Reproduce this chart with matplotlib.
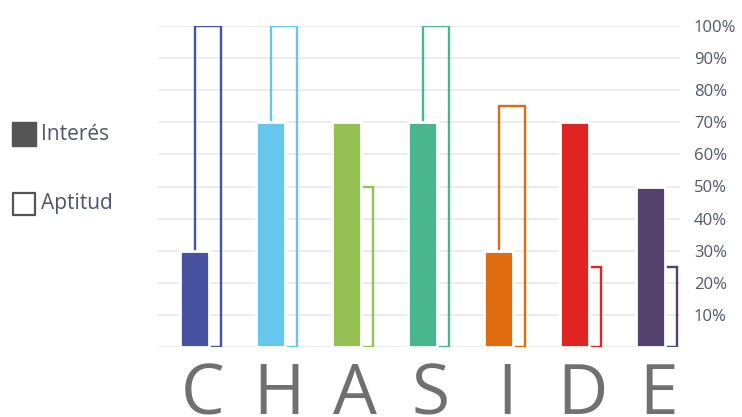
import matplotlib
matplotlib.use("Agg")
import matplotlib.pyplot as plt
from matplotlib.patches import Rectangle

categories = ["C", "H", "A", "S", "I", "D", "E"]
interes = [30, 70, 70, 70, 30, 70, 50]
aptitud = [100, 100, 50, 100, 75, 25, 25]
colors = ["#4652a0", "#67c6ec", "#96c155", "#49b690", "#e06c10", "#e02424", "#55416e"]
yticks = [10, 20, 30, 40, 50, 60, 70, 80, 90, 100]
ytick_labels = ["10%", "20%", "30%", "40%", "50%", "60%", "70%", "80%", "90%", "100%"]
legend_labels = ["Interés", "Aptitud"]

plt.rcParams['font.family'] = ['Open Sans', 'DejaVu Sans']

W, H = 742, 417
fig = plt.figure(figsize=(W / 100, H / 100), dpi=100)
ax = fig.add_axes([158 / W, (H - 347) / H, (680 - 158) / W, (347 - 26) / H])

x = list(range(len(categories)))
off = 0.09
# gridlines
for v in [0] + yticks:
    ax.axhline(v, color="#ececec", lw=1.4, zorder=0)

ax.bar([i + off for i in x], aptitud, width=0.34, facecolor="none",
       edgecolor=colors, linewidth=1.7, zorder=2)
ax.bar([i - off for i in x], interes, width=0.38, color=colors,
       edgecolor="white", linewidth=2.0, zorder=3)

ax.set_xlim(-0.566, 6.30)
ax.set_ylim(0, 100)
ax.yaxis.tick_right()
ax.set_yticks(yticks)
ax.set_yticklabels(ytick_labels, fontsize=12, color="#50566a")
ax.tick_params(axis="y", length=0, pad=10)
ax.set_xticks([])
for s in ax.spines.values():
    s.set_visible(False)

for i, c in zip(x, categories):
    ax.text(i + 0.02, -0.045, c, transform=ax.get_xaxis_transform(),
            ha="center", va="top", fontsize=50, color="#707070", clip_on=False)

# legend
fig.add_artist(Rectangle((12 / W, (H - 146) / H), 24 / W, 24 / H,
                         transform=fig.transFigure, facecolor="#555555",
                         edgecolor="#555555", lw=1.0))
fig.add_artist(Rectangle((13 / W, (H - 215) / H), 22 / W, 22 / H,
                         transform=fig.transFigure, facecolor="white",
                         edgecolor="#555555", lw=1.6))
fig.text(41 / W, (H - 134) / H, legend_labels[0], fontsize=15, color="#50566a",
         ha="left", va="center")
fig.text(41 / W, (H - 204) / H, legend_labels[1], fontsize=15, color="#50566a",
         ha="left", va="center")

fig.savefig("out.png", dpi=100)
